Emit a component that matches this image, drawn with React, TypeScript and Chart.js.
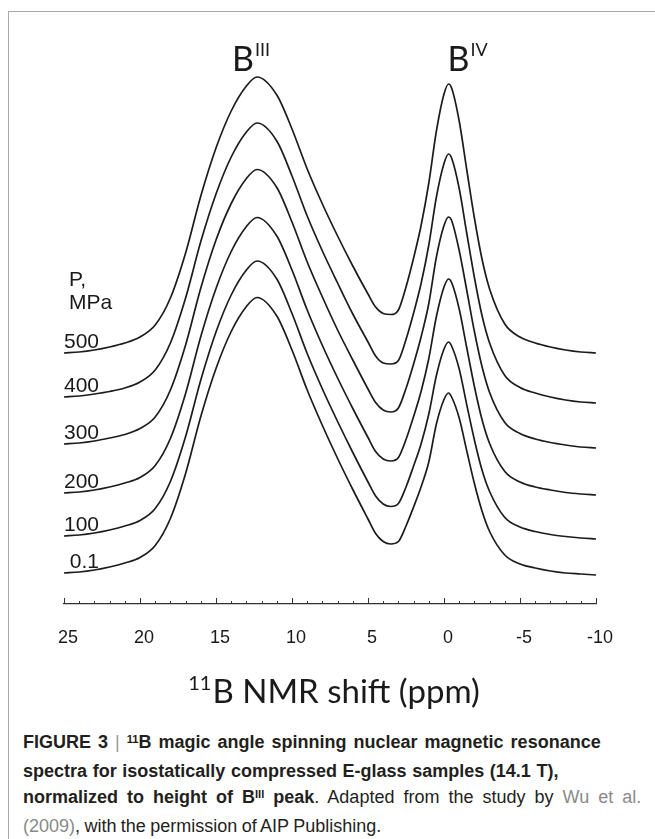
import React, { useEffect, useRef } from "react";
import { Chart, registerables } from "chart.js";

Chart.register(...registerables);

// 11B chemical shift (ppm) sample points
const shifts = [25, 24, 23, 22, 21, 20, 19, 18, 17, 16, 15, 14, 13, 12.3, 11, 10, 9, 8, 7, 6, 5, 4.5, 4, 3.5, 3, 2.5, 2, 1.5, 1, 0.5, 0, -0.3, -0.5, -1, -1.5, -2, -2.5, -3, -4, -5, -6, -7, -8, -9, -10];

// stacked (offset) intensities, arbitrary units
const spec500 = [251, 252, 254, 257, 261, 267, 279, 306, 351, 408, 456, 493, 518, 527, 509, 475, 435, 400, 368, 338, 310, 297, 290.5, 289.5, 294, 317, 346, 379, 421, 473, 510, 520, 516, 483, 434, 386, 345, 315, 280, 267, 261, 257, 254, 252, 251];
const spec400 = [207, 208, 210, 212.5, 216, 222, 234, 261, 306, 362.5, 410, 447, 472, 481, 463, 428, 388, 353, 321, 290, 262, 248, 241, 240, 243.5, 264.5, 291, 321, 359, 407, 440.5, 450, 446, 415.5, 370.5, 326.5, 288.5, 261, 228.5, 216.5, 211, 207, 204, 202, 201];
const spec300 = [160, 161, 163, 166, 169.5, 175.5, 187, 214, 259, 316, 364, 400.5, 425.5, 434.5, 416.5, 382, 342, 307, 274, 244, 215, 201.5, 194, 192, 196, 215.5, 240, 267.5, 300.5, 347, 378.5, 387, 383.5, 353.5, 313.5, 272.5, 237.5, 211.5, 181.5, 170.5, 165, 161.5, 159, 157, 156];
const spec200 = [111, 112, 114, 117, 121, 126.5, 138.5, 165.5, 210.5, 267.5, 315.5, 352.5, 377.5, 386.5, 368, 334, 294, 258.5, 226, 195.5, 166.5, 152.5, 145, 143, 146.5, 164.5, 187.5, 213, 245.5, 287.5, 317, 325, 321.5, 295, 256, 217.5, 184.5, 160.5, 132.5, 122, 117, 114, 111.5, 110, 109];
const spec100 = [68, 69, 71, 74, 78, 83.5, 95.5, 122.5, 167.5, 224, 272, 309, 334, 343, 325, 290.5, 250.5, 215, 182.5, 151.5, 122, 108, 100, 97.5, 100.5, 117, 138, 160.5, 190, 228.5, 255, 262, 258, 235, 199, 164, 134, 112.5, 86.5, 77, 72.5, 69.5, 67.5, 66, 65];
const spec01 = [31, 32, 34, 37, 41, 46.5, 58.5, 85.5, 130.5, 187.5, 235.5, 272.5, 297.5, 306.5, 288, 254, 214, 178.5, 145.5, 114.5, 85, 70.5, 62.5, 60, 62.5, 78, 97, 117.5, 142, 180, 204.5, 211, 207, 186, 153, 120.5, 93, 72.5, 49, 40, 36, 33, 31, 30, 29];

const pressures = ["500", "400", "300", "200", "100", "0.1"];
const spectra = [spec500, spec400, spec300, spec200, spec100, spec01];
const xTicks = [25, 20, 15, 10, 5, 0, -5, -10];
const peakIII = 12.3;
const peakIV = -0.3;

const LINE = "#1c1c1c";

const annotations = {
  id: "annotations",
  afterDraw(chart: any) {
    const { ctx, chartArea } = chart;
    const x = chart.scales.x;
    const y = chart.scales.y;
    ctx.save();
    // minor / major tick marks pointing up
    ctx.strokeStyle = "#333";
    ctx.lineWidth = 1;
    const yb = chartArea.bottom;
    for (let v = -10; v <= 25; v++) {
      const px = Math.round(x.getPixelForValue(v)) + 0.5;
      const len = v % 5 === 0 ? 6 : 3;
      ctx.beginPath();
      ctx.moveTo(px, yb);
      ctx.lineTo(px, yb - len);
      ctx.stroke();
    }
    // pressure labels
    ctx.fillStyle = "#1a1a1a";
    ctx.font = '21px "Liberation Sans", Arial, sans-serif';
    ctx.textAlign = "right";
    ctx.textBaseline = "alphabetic";
    const xl = x.getPixelForValue(25);
    spectra.forEach((s, i) => {
      ctx.fillText(pressures[i], xl + 35, y.getPixelForValue(s[0]) - 5);
    });
    ctx.textAlign = "left";
    const yTop = y.getPixelForValue(spec500[0]);
    ctx.fillText("P,", xl + 5, yTop - 67);
    ctx.fillText("MPa", xl + 5, yTop - 44);
    // peak labels
    const drawSup = (base: string, sup: string, left: number, baseline: number, big: number, small: number) => {
      ctx.font = `${big}px Lato, "Open Sans", sans-serif`;
      ctx.fillText(base, left, baseline);
      const w = ctx.measureText(base).width;
      ctx.font = `${small}px Lato, "Open Sans", sans-serif`;
      ctx.fillText(sup, left + w + 1, baseline - big * 0.45);
    };
    drawSup("B", "III", x.getPixelForValue(peakIII) - 25, 71, 34, 18);
    drawSup("B", "IV", x.getPixelForValue(peakIV) - 1, 71, 34, 18);
    // axis title with superscript mass number
    const cx = (chartArea.left + chartArea.right) / 2 + 4;
    ctx.font = '33px Lato, "Open Sans", sans-serif';
    const mainW = ctx.measureText("B NMR shift (ppm)").width;
    ctx.font = '20px Lato, "Open Sans", sans-serif';
    const supW = ctx.measureText("11").width;
    const start = cx - (mainW + supW + 1) / 2;
    ctx.fillText("11", start, 690);
    ctx.font = '33px Lato, "Open Sans", sans-serif';
    ctx.fillText("B NMR shift (ppm)", start + supW + 1, 703);
    ctx.restore();
  },
};

function SpectraChart() {
  const ref = useRef<HTMLCanvasElement>(null);
  useEffect(() => {
    if (!ref.current) return;
    const chart = new Chart(ref.current, {
      type: "line",
      data: {
        datasets: spectra.map((s, i) => ({
          label: pressures[i],
          data: shifts.map((sh, j) => ({ x: sh, y: s[j] })),
          borderColor: LINE,
          borderWidth: 1.7,
          pointRadius: 0,
          fill: false,
          cubicInterpolationMode: "monotone" as const,
        })),
      },
      options: {
        animation: false,
        responsive: false,
        devicePixelRatio: 1,
        layout: { padding: { left: 64, right: 59, top: 60, bottom: 76 } },
        plugins: { legend: { display: false }, tooltip: { enabled: false } },
        scales: {
          x: {
            type: "linear",
            reverse: true,
            min: -10,
            max: 25,
            afterBuildTicks: (scale: any) => {
              scale.ticks = xTicks.map((v) => ({ value: v }));
            },
            afterFit: (scale: any) => {
              scale.height = 40;
            },
            ticks: {
              font: { family: '"Liberation Sans", Arial, sans-serif', size: 18 },
              color: "#1a1a1a",
              padding: 15,
              labelOffset: 4,
              maxRotation: 0,
              autoSkip: false,
              callback: (v: any) => String(v),
            },
            grid: { display: false },
            border: { display: true, color: "#333", width: 1.3 },
          },
          y: { display: false, min: 0, max: 544 },
        },
      },
      plugins: [annotations],
    });
    return () => chart.destroy();
  }, []);
  return (
    <canvas
      ref={ref}
      width={655}
      height={720}
      style={{ position: "absolute", left: 0, top: 0, width: 655, height: 720 }}
    />
  );
}

const supStyle: React.CSSProperties = { fontSize: "0.62em", position: "relative", top: "-0.45em", verticalAlign: "baseline" };
const gray = "#8a8a8a";

export default function App() {
  return (
    <div style={{ position: "absolute", left: 0, top: 0, width: 655, height: 839, overflow: "hidden", background: "#fff" }}>
      <div style={{ position: "absolute", left: 8, top: 11, width: 700, height: 900, borderLeft: "1.5px solid #a8a8a8", borderTop: "1.5px solid #a8a8a8" }} />
      <SpectraChart />
      <div
        style={{
          position: "absolute",
          left: 23,
          top: 729,
          fontFamily: '"Liberation Sans", Arial, Helvetica, sans-serif',
          fontSize: 18,
          lineHeight: "26.7px",
          color: "#231f20",
          whiteSpace: "nowrap",
        }}
      >
        <div style={{ wordSpacing: "2px" }}>
          <b>FIGURE 3</b> <span style={{ color: "#999" }}>|</span>{" "}
          <b><span style={supStyle}>11</span>B magic angle spinning nuclear magnetic resonance</b>
        </div>
        <div style={{ wordSpacing: "0.6px" }}>
          <b>spectra for isostatically compressed E-glass samples (14.1 T),</b>
        </div>
        <div style={{ wordSpacing: "4px" }}>
          <b>normalized to height of B<span style={supStyle}>III</span> peak</b>. Adapted from the study by{" "}
          <span style={{ color: gray }}>Wu et al.</span>
        </div>
        <div style={{ wordSpacing: "-0.6px" }}>
          <span style={{ color: gray }}>(2009)</span>, with the permission of AIP Publishing.
        </div>
      </div>
    </div>
  );
}
